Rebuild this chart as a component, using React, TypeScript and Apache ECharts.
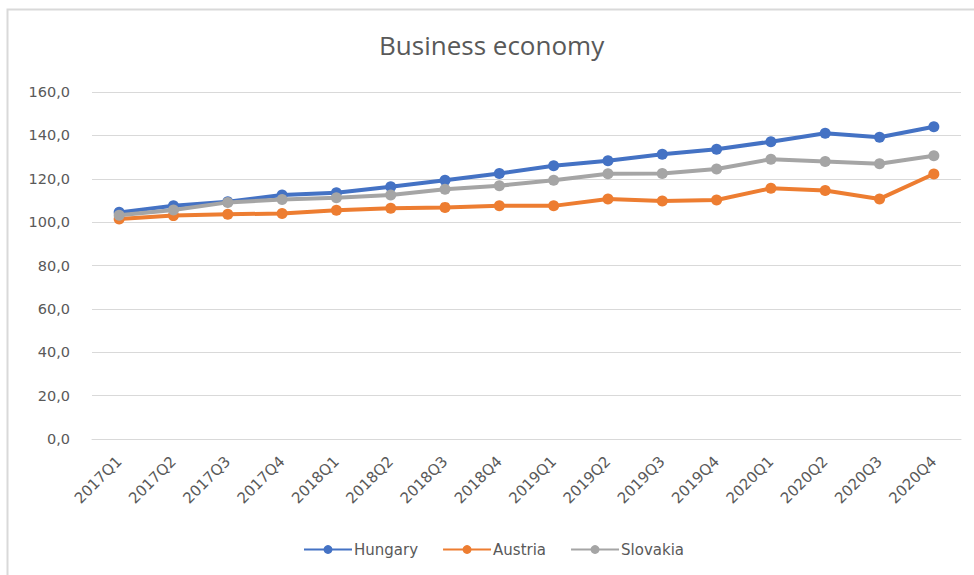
import React, { useEffect, useRef } from "react";
import * as echarts from "echarts";

const categories = [
  "2017Q1", "2017Q2", "2017Q3", "2017Q4",
  "2018Q1", "2018Q2", "2018Q3", "2018Q4",
  "2019Q1", "2019Q2", "2019Q3", "2019Q4",
  "2020Q1", "2020Q2", "2020Q3", "2020Q4",
];
const hungary = [104.5, 107.5, 109.4, 112.5, 113.5, 116.3, 119.3, 122.4, 126.0, 128.3, 131.3, 133.6, 137.1, 141.0, 139.1, 144.0];
const austria = [101.4, 103.0, 103.6, 104.0, 105.5, 106.4, 106.8, 107.5, 107.5, 110.7, 109.7, 110.2, 115.6, 114.6, 110.7, 122.2];
const slovakia = [103.2, 105.6, 109.1, 110.4, 111.2, 112.5, 115.2, 116.8, 119.3, 122.3, 122.4, 124.5, 129.0, 128.0, 126.9, 130.6];
const seriesNames = ["Hungary", "Austria", "Slovakia"];
const seriesColors = ["#4472C4", "#ED7D31", "#A5A5A5"];
const yTicks = { min: 0, max: 160, interval: 20 };

export default function App() {
  const ref = useRef<HTMLDivElement>(null);
  useEffect(() => {
    if (!ref.current) return;
    const chart = echarts.init(ref.current, null, { renderer: "svg" });
    const font = "'DejaVu Sans', sans-serif";
    const titleFont = "'Open Sans', sans-serif";
    const data = [hungary, austria, slovakia];
    chart.setOption({
      animation: false,
      backgroundColor: "#ffffff",
      textStyle: { fontFamily: font },
      title: {
        text: "Business economy",
        left: 379,
        top: 32,
        padding: 0,
        textStyle: { fontFamily: titleFont, fontSize: 26, fontWeight: "normal", color: "#595959" },
      },
      graphic: [
        {
          type: "rect",
          shape: { x: 7.5, y: 9.5, width: 1000, height: 600 },
          style: { fill: "none", stroke: "#D9D9D9", lineWidth: 2 },
          silent: true,
          z: -1,
        },
      ],
      legend: {
        top: 542,
        left: 303,
        padding: 0,
        itemWidth: 48,
        itemHeight: 11,
        itemGap: 24,
        textStyle: { fontFamily: font, fontSize: 15, color: "#595959", padding: [0, 0, 0, -3] },
        data: seriesNames,
      },
      grid: { left: 92, right: 13, top: 92, bottom: 136, outerBoundsMode: "none" },
      xAxis: {
        type: "category",
        data: categories,
        boundaryGap: true,
        axisLine: { lineStyle: { color: "#D9D9D9", width: 1 } },
        axisTick: { show: false },
        axisLabel: { rotate: 45, margin: 20, fontSize: 15, color: "#595959", fontFamily: font },
      },
      yAxis: {
        type: "value",
        min: yTicks.min,
        max: yTicks.max,
        interval: yTicks.interval,
        axisLine: { show: false },
        axisTick: { show: false },
        splitLine: { lineStyle: { color: "#D9D9D9", width: 1 } },
        axisLabel: {
          margin: 22,
          fontSize: 14.5,
          color: "#595959",
          fontFamily: font,
          formatter: (v: number) => v.toFixed(1).replace(".", ","),
        },
      },
      series: seriesNames.map((name, i) => ({
        name,
        type: "line",
        data: data[i],
        symbol: "circle",
        symbolSize: 11,
        lineStyle: { width: 4, color: seriesColors[i] },
        itemStyle: { color: seriesColors[i] },
        z: 2 + i,
      })),
    });
    return () => chart.dispose();
  }, []);
  return (
    <div
      ref={ref}
      style={{ position: "fixed", left: 0, top: 0, width: 974, height: 575 }}
    />
  );
}
